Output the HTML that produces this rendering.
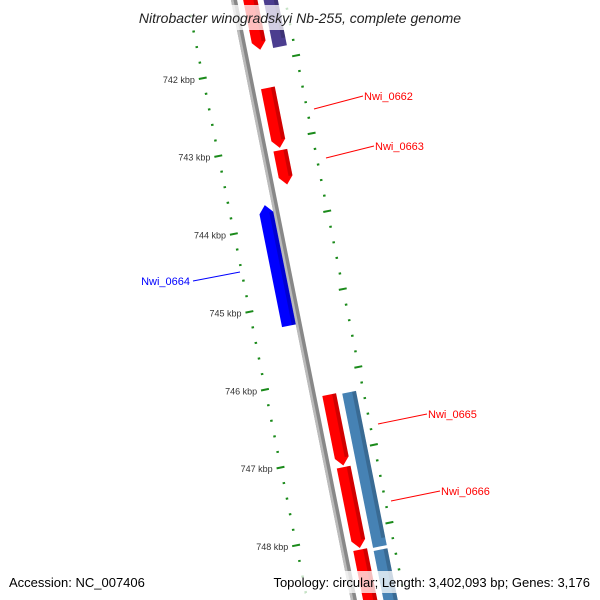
<!DOCTYPE html>
<html><head><meta charset="utf-8"><style>
html,body{margin:0;padding:0;background:#fff;overflow:hidden;width:600px;height:600px;}
svg{display:block;font-family:"Liberation Sans",sans-serif;overflow:hidden;}
</style></head><body>
<svg id="chart" width="600" height="600" viewBox="0 0 600 600">
<g id="track" transform="translate(234,0) rotate(-11.3)"></g>
<g id="labels"></g>
<rect x="100" y="5" width="400" height="25" fill="#fff" opacity="0.75"/>
<text x="300" y="23" text-anchor="middle" font-size="14" font-style="italic" fill="#222">Nitrobacter winogradskyi Nb-255, complete genome</text>
<rect x="0" y="571" width="600" height="22" fill="#fff" opacity="0.75"/>
<text x="9" y="587" font-size="13" fill="#000">Accession: NC_007406</text>
<text x="590" y="587" font-size="13" fill="#000" text-anchor="end">Topology: circular; Length: 3,402,093 bp; Genes: 3,176</text>
</svg>
<script>
const tickKbp = [741, 742, 743, 744, 745, 746, 747, 748, 749];
const tickLabels = ["","742 kbp","743 kbp","744 kbp","745 kbp","746 kbp","747 kbp","748 kbp",""];
const geneNames = ["top-red","Nwi_0662","Nwi_0663","Nwi_0664","Nwi_0665","Nwi_0666","bottom-red","top-purple","cds-a","cds-b"];
const geneStart = [740.5, 742.28, 743.08, 743.72, 746.22, 747.15, 748.21, 740.5, 746.24, 748.26];
const geneEnd   = [741.79, 743.05, 743.52, 745.27, 747.13, 748.19, 749.2, 741.80, 748.22, 749.2];
const geneStrand = [1, 1, 1, -1, 1, 1, 1, 0, 0, 0];
const geneLane = ["fwd","fwd","fwd","rev","fwd","fwd","fwd","extra","extra","extra"];
const geneColor = ["#ff0000","#ff0000","#ff0000","#0000ff","#ff0000","#ff0000","#ff0000","#4b3d8f","#4682b4","#4682b4"];
const labelled = [1,2,3,4,5];

const NS="http://www.w3.org/2000/svg";
const track=document.getElementById('track');
const labels=document.getElementById('labels');
const COS=Math.cos(11.3*Math.PI/180), SIN=Math.sin(11.3*Math.PI/180);
function sOf(k){return 70.6+79.4*(k-742);}
function toScreen(d,s){return [234+d*COS+s*SIN, -d*SIN+s*COS];}
function mk(tag,attrs,parent){const e=document.createElementNS(NS,tag);for(const a in attrs)e.setAttribute(a,attrs[a]);parent.appendChild(e);return e;}

let bb=mk('rect',{x:-3,y:-20,width:6,height:650,fill:'#888'},track);


let bb2=mk('rect',{x:-3,y:-20,width:2.5,height:650,fill:'#bbb'},track);



for(let i=0;i<tickKbp.length;i++){
  for(let m=0;m<5;m++){
    const k=tickKbp[i]+m*0.2, s=sOf(k);
    if(s<-5||s>620) continue;
    const major=m===0;
    const L=mk('rect',{x:major?-50:-47,y:s-1,width:major?8:2.5,height:2,fill:'#1a8a1a'},track);
    
    
    const rs=s-4;
    const R=mk('rect',{x:major?46:49,y:rs-1,width:major?8:2.5,height:2,fill:'#1a8a1a'},track);
    
    
  }
  if(!tickLabels[i]) continue;
  const p=toScreen(-54,sOf(tickKbp[i]));
  const t=mk('text',{x:p[0],y:p[1]+3,'font-size':9,'text-anchor':'end',fill:'#333'},labels);
  t.textContent=tickLabels[i];
  
  
}

const lanes={fwd:[9,23],rev:[-17,-3],extra:[29,43]};
for(let i=0;i<geneNames.length;i++){
  const [d0,d1]=lanes[geneLane[i]];
  const s0=Math.max(-20,sOf(geneStart[i])), s1=Math.min(630,sOf(geneEnd[i]));
  const mid=(d0+d1)/2, tip=8;
  let pts;
  if(geneStrand[i]===1) pts=[[d0,s0],[d1,s0],[d1,s1-tip],[mid,s1],[d0,s1-tip]];
  else if(geneStrand[i]===-1) pts=[[mid,s0],[d1,s0+tip],[d1,s1],[d0,s1],[d0,s0+tip]];
  else pts=[[d0,s0],[d1,s0],[d1,s1],[d0,s1]];
  const g=mk('polygon',{points:pts.map(p=>p.join(',')).join(' '),fill:geneColor[i]},track);
  
  
  const sh=mk('rect',{x:d1-4,y:s0+(geneStrand[i]===-1?tip:0),width:4,height:Math.max(0,s1-s0-tip),fill:'#000',opacity:0.18},track);
  
  
}

const labelPos={1:[364,100],2:[375,150],3:[190,285],4:[428,418],5:[441,495]};
const lineFrom={1:[314,109],2:[326,158],3:[240,272],4:[378,424],5:[391,501]};
for(const i of labelled){
  const [lx,ly]=labelPos[i], [fx,fy]=lineFrom[i];
  const left=geneStrand[i]===-1;
  const ln=mk('line',{x1:fx,y1:fy,x2:left?lx+3:lx-1,y2:ly-4,stroke:geneColor[i],'stroke-width':1},labels);
  
  
  const t=mk('text',{x:lx,y:ly,'font-size':11,fill:geneColor[i],'text-anchor':left?'end':'start'},labels);
  t.textContent=geneNames[i];
  
  
}
</script>
</body></html>
